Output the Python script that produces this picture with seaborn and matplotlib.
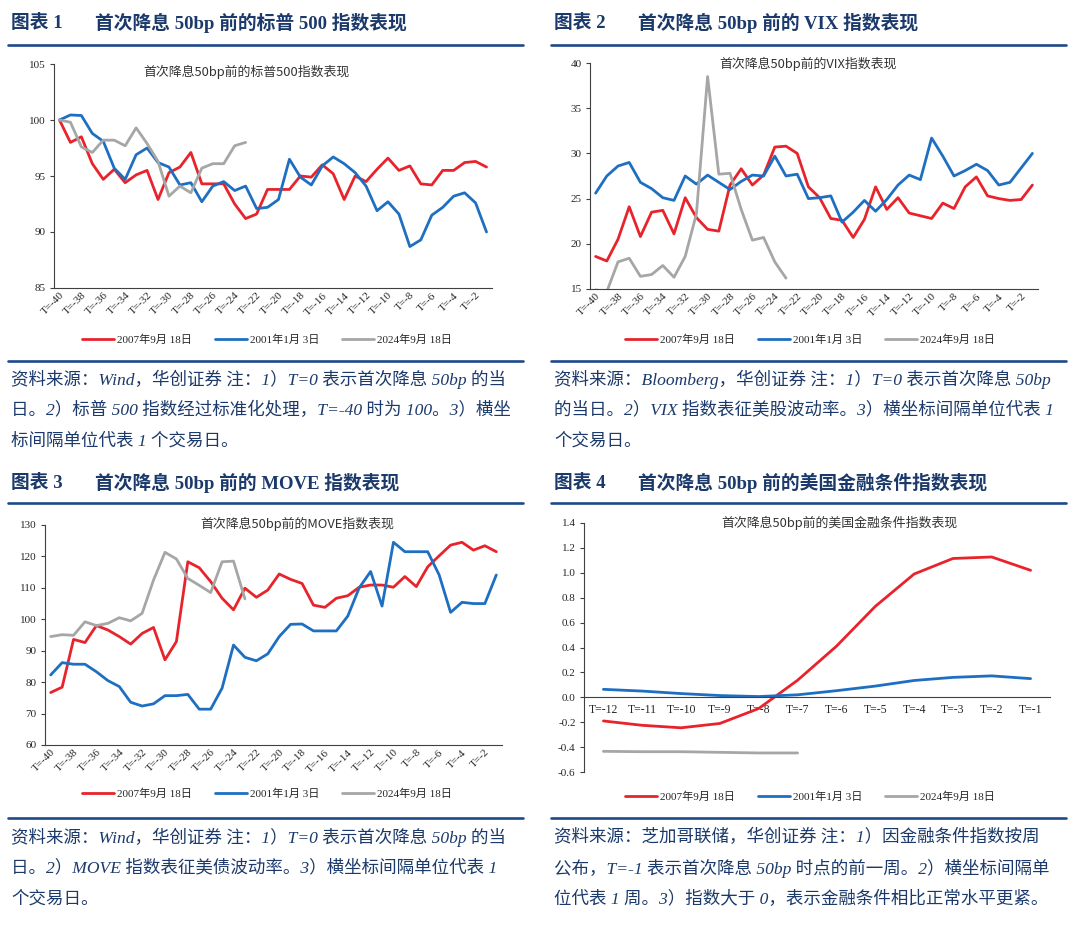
"""Four panels: markets before the first 50bp Fed cut."""

import numpy as np
import pandas as pd
import matplotlib
matplotlib.use("Agg")
import matplotlib.pyplot as plt
from matplotlib.lines import Line2D
import seaborn as sns

# ---- data -------------------------------------------------------------
series_names = ["2007年9月 18日", "2001年1月 3日", "2024年9月 18日"]
day_labels = [f"T=-{i}" for i in range(40, 0, -1)]  # T=-40 ... T=-1
week_labels = [f"T=-{i}" for i in range(12, 0, -1)]  # T=-12 ... T=-1

spx_2007 = [100.0, 98.0, 98.5, 96.1, 94.7, 95.6, 94.4, 95.1, 95.5, 92.9,
            95.3, 95.8, 97.1, 94.3, 94.3, 94.3, 92.5, 91.2, 91.6, 93.8,
            93.8, 93.8, 95.0, 94.9, 96.0, 95.2, 92.9, 95.0, 94.5, 95.6,
            96.6, 95.5, 95.9, 94.3, 94.2, 95.5, 95.5, 96.2, 96.3, 95.8]
spx_2001 = [100.0, 100.45, 100.4, 98.8, 98.1, 95.7, 94.7, 96.9, 97.5, 96.2,
            95.8, 94.2, 94.4, 92.7, 94.1, 94.5, 93.7, 94.1, 92.1, 92.2,
            92.9, 96.5, 94.9, 94.2, 95.9, 96.7, 96.1, 95.3, 94.1, 91.9,
            92.7, 91.6, 88.7, 89.3, 91.5, 92.2, 93.2, 93.5, 92.6, 90.0]
spx_2024 = [100.0, 99.8, 97.6, 97.1, 98.2, 98.2, 97.7, 99.3, 97.9, 96.3,
            93.2, 94.1, 93.5, 95.7, 96.1, 96.1, 97.7, 98.0]

vix_2007 = [18.6, 18.1, 20.5, 24.1, 20.8, 23.5, 23.7, 21.1, 25.1, 22.9,
            21.6, 21.4, 26.5, 28.3, 26.5, 27.6, 30.7, 30.8, 30.0, 26.3,
            25.1, 22.8, 22.6, 20.7, 22.7, 26.3, 23.8, 25.1, 23.4, 23.1,
            22.8, 24.5, 23.9, 26.3, 27.4, 25.3, 25.0, 24.8, 24.9, 26.5]
vix_2001 = [25.6, 27.5, 28.6, 29.0, 26.8, 26.1, 25.1, 24.8, 27.5, 26.6,
            27.6, 26.8, 26.0, 26.9, 27.6, 27.5, 29.7, 27.5, 27.7, 25.0,
            25.1, 25.3, 22.4, 23.5, 24.8, 23.6, 24.9, 26.5, 27.6, 27.1,
            31.7, 29.7, 27.5, 28.1, 28.8, 28.1, 26.5, 26.8, 28.4, 30.0]
vix_2024 = [14.9, 14.7, 18.0, 18.4, 16.4, 16.6, 17.6, 16.3, 18.6, 23.3,
            38.5, 27.7, 27.8, 23.8, 20.4, 20.7, 18.0, 16.2]

move_2007 = [76.7, 78.4, 93.6, 92.6, 98.0, 96.6, 94.5, 92.1, 95.5, 97.4,
             87.1, 92.9, 118.3, 116.4, 112.0, 106.7, 103.0, 109.9, 107.0, 109.3,
             114.4, 112.7, 111.4, 104.5, 103.8, 106.7, 107.5, 110.2, 110.9, 110.9,
             110.2, 113.6, 110.4, 116.7, 120.2, 123.6, 124.5, 122.0, 123.4, 121.5]
move_2001 = [82.3, 86.2, 85.7, 85.7, 83.3, 80.5, 78.6, 73.6, 72.4, 73.1,
             75.7, 75.7, 76.1, 71.4, 71.4, 78.1, 91.8, 87.9, 86.8, 89.0,
             94.5, 98.4, 98.5, 96.3, 96.3, 96.3, 101.0, 110.0, 115.2, 104.2,
             124.5, 121.5, 121.5, 121.5, 114.1, 102.2, 105.4, 105.0, 105.0, 114.1]
move_2024 = [94.5, 95.1, 94.9, 99.2, 98.0, 98.7, 100.5, 99.5, 101.9, 112.5,
             121.3, 119.2, 113.0, 110.8, 108.5, 118.3, 118.5, 106.5]

nfci_2007 = [-0.19, -0.225, -0.245, -0.21, -0.09, 0.137,
             0.41, 0.73, 0.99, 1.115, 1.127, 1.02]
nfci_2001 = [0.064, 0.05, 0.03, 0.014, 0.006, 0.02,
             0.053, 0.09, 0.135, 0.16, 0.172, 0.15]
nfci_2024 = [-0.434, -0.437, -0.437, -0.442, -0.447, -0.447]

# ---- text -------------------------------------------------------------
headers = ["首次降息 50bp 前的标普 500 指数表现", "首次降息 50bp 前的 VIX 指数表现",
           "首次降息 50bp 前的 MOVE 指数表现", "首次降息 50bp 前的美国金融条件指数表现"]
inner_titles = ["首次降息50bp前的标普500指数表现", "首次降息50bp前的VIX指数表现",
                "首次降息50bp前的MOVE指数表现", "首次降息50bp前的美国金融条件指数表现"]
notes = [
    ["资料来源：Wind，华创证券 注：1）T=0 表示首次降息 50bp 的当",
     "日。2）标普 500 指数经过标准化处理，T=-40 时为 100。3）横坐",
     "标间隔单位代表 1 个交易日。"],
    ["资料来源：Bloomberg，华创证券 注：1）T=0 表示首次降息 50bp",
     "的当日。2）VIX 指数表征美股波动率。3）横坐标间隔单位代表 1",
     "个交易日。"],
    ["资料来源：Wind，华创证券 注：1）T=0 表示首次降息 50bp 的当",
     "日。2）MOVE 指数表征美债波动率。3）横坐标间隔单位代表 1",
     "个交易日。"],
    ["资料来源：芝加哥联储，华创证券 注：1）因金融条件指数按周",
     "公布，T=-1 表示首次降息 50bp 时点的前一周。2）横坐标间隔单",
     "位代表 1 周。3）指数大于 0，表示金融条件相比正常水平更紧。"],
]

# ---- style ------------------------------------------------------------
sns.set_style("white")
SERIF = ["Liberation Serif", "Noto Sans CJK SC"]
SANS = ["Noto Sans CJK SC", "DejaVu Sans"]
plt.rcParams["font.family"] = SERIF
plt.rcParams["axes.unicode_minus"] = False

RED, BLUE, GRAY = "#E8232B", "#1E6FC1", "#A6A6A6"
NAVY, RULE = "#1B3A6B", "#1F4A8A"
palette = dict(zip(series_names, [RED, BLUE, GRAY]))

W, H = 1080, 934
fig = plt.figure(figsize=(W / 100, H / 100), dpi=100)


def fx(x):
    return x / W


def fy(y):
    return 1 - y / H


def add_ax(left, top, right, bottom):
    return fig.add_axes([fx(left), fy(bottom), (right - left) / W, (bottom - top) / H])


def rule(x0, x1, y):
    fig.add_artist(Line2D([fx(x0), fx(x1)], [fy(y), fy(y)], lw=1.9, color=RULE))


def long_df(cols):
    frames = []
    for name, vals in zip(series_names, cols):
        frames.append(pd.DataFrame({"idx": np.arange(len(vals)), "val": vals, "series": name}))
    return pd.concat(frames, ignore_index=True)


def draw_panel(ax, cols, labels, ylim, ystep, title, title_xy, legend_xy, fmt="{:.0f}", zero_axis=False):
    df = long_df(cols)
    sns.lineplot(data=df, x="idx", y="val", hue="series", palette=palette,
                 linewidth=2.0, ax=ax, legend=False, sort=False)
    n = len(labels)
    ax.set_xlim(-0.5, n - 0.5)
    ax.set_ylim(*ylim)
    yt = np.arange(ylim[0], ylim[1] + ystep / 2, ystep)
    ax.set_yticks(yt, [fmt.format(v) for v in yt])
    ax.set_xlabel("")
    ax.set_ylabel("")
    for s in ["top", "right"]:
        ax.spines[s].set_visible(False)
    for s in ["left", "bottom"]:
        ax.spines[s].set_color("#404040")
        ax.spines[s].set_linewidth(0.8)
    ax.set_xticks(np.arange(-0.5, n, 1), minor=True)
    ax.tick_params(axis="x", which="minor", length=3, direction="out", color="#404040", width=0.8)
    ax.tick_params(axis="y", length=3, direction="out", color="#404040", width=0.8,
                   labelsize=8, pad=3, left=True)
    if zero_axis:
        ax.spines["bottom"].set_position(("data", 0))
        ax.set_xticks(np.arange(n), labels)
        ax.tick_params(axis="x", which="major", length=0, labelsize=8.5, pad=5)
    else:
        ax.set_xticks(np.arange(0, n, 2), labels[::2])
        ax.tick_params(axis="x", which="major", length=0, labelsize=8, pad=2)
        for t in ax.get_xticklabels():
            t.set_rotation(45)
            t.set_ha("right")
            t.set_rotation_mode("anchor")
    fig.text(fx(title_xy[0]), fy(title_xy[1]), title, family=SANS, fontsize=9.3,
             color="#333333", ha="center", va="center")
    handles = [Line2D([], [], color=c, lw=2.0) for c in [RED, BLUE, GRAY]]
    ax.legend(handles, series_names, loc="center", ncol=3, frameon=False,
              bbox_to_anchor=(fx(legend_xy[0]), fy(legend_xy[1])), bbox_transform=fig.transFigure,
              fontsize=8, handlelength=2.9, columnspacing=2.0, handletextpad=0.3)


# ---- headers, rules and notes -----------------------------------------
cols_x = [(8, 523), (551, 1066)]
head_y = [23, 483]
top_rule_y = [45, 503]
low_rule_y = [361, 818]
note_y = [[379, 410, 441], [837, 868, 899]]

for k in range(4):
    row, col = divmod(k, 2)
    x0, x1 = cols_x[col]
    fig.text(fx(x0 + 3), fy(head_y[row]), f"图表 {k + 1}", family=SERIF, weight="bold",
             fontsize=13.5, color=NAVY, va="center")
    fig.text(fx(x0 + 87), fy(head_y[row]), headers[k], family=SERIF, weight="bold",
             fontsize=13.5, color=NAVY, va="center")
    rule(x0, x1, top_rule_y[row])
    rule(x0, x1, low_rule_y[row])
    for line, y in zip(notes[k], note_y[row]):
        fig.text(fx(x0 + 3), fy(y), line, family=SERIF, style="italic",
                 fontsize=12.6, color=NAVY, va="center")

# ---- panels -----------------------------------------------------------
ax1 = add_ax(54, 64, 492, 288)
draw_panel(ax1, [spx_2007, spx_2001, spx_2024], day_labels, (85, 105), 5,
           inner_titles[0], (246, 72), (267, 340))

ax2 = add_ax(590, 63, 1038, 289)
draw_panel(ax2, [vix_2007, vix_2001, vix_2024], day_labels, (15, 40), 5,
           inner_titles[1], (808, 64), (810, 340))

ax3 = add_ax(45, 525, 502, 745)
draw_panel(ax3, [move_2007, move_2001, move_2024], day_labels, (60, 130), 10,
           inner_titles[2], (297, 524), (267, 794))

ax4 = add_ax(584, 523, 1050, 772)
draw_panel(ax4, [nfci_2007, nfci_2001, nfci_2024], week_labels, (-0.6, 1.4), 0.2,
           inner_titles[3], (839, 523), (810, 797), fmt="{:.1f}", zero_axis=True)

fig.savefig("out.png", dpi=100)
